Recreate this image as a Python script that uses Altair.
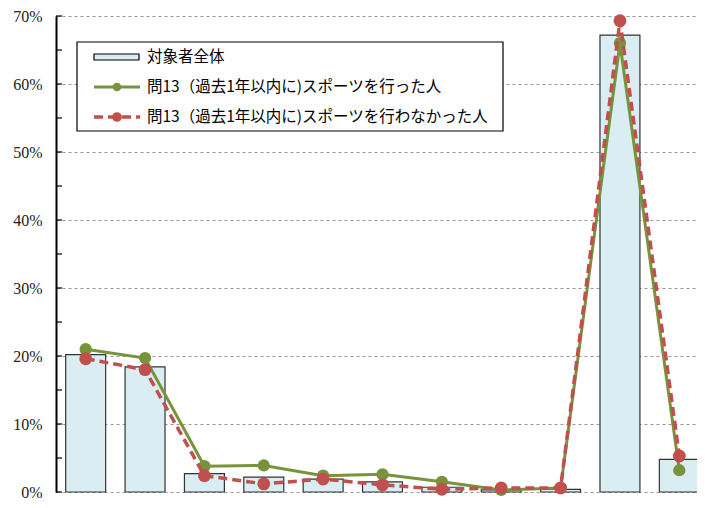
import altair as alt
import pandas as pd

categories = ["c01", "c02", "c03", "c04", "c05", "c06", "c07", "c08", "c09", "c10", "c11"]
total = [20.2, 18.4, 2.7, 2.2, 1.9, 1.5, 0.7, 0.3, 0.4, 67.2, 4.8]
did_sport = [21.0, 19.7, 3.8, 3.9, 2.4, 2.6, 1.5, 0.3, 0.6, 66.0, 3.2]
no_sport = [19.6, 18.0, 2.4, 1.2, 1.9, 1.05, 0.4, 0.6, 0.6, 69.3, 5.3]
legend_labels = ["対象者全体", "問13（過去1年以内に)スポーツを行った人", "問13（過去1年以内に)スポーツを行わなかった人"]
tick_values = [0, 5, 10, 15, 20, 25, 30, 35, 40, 45, 50, 55, 60, 65, 70]

BAR_FILL = "#daedf3"
GREEN = "#77933c"
RED = "#c0504d"
SERIF = "serif"

df = pd.DataFrame({"cat": categories, "total": total, "yes": did_sport, "no": no_sport})

xenc = alt.X("cat:N", sort=categories, axis=None,
             scale=alt.Scale(paddingInner=0.327, paddingOuter=0.1635))
yscale = alt.Scale(domain=[0, 70], nice=False, zero=True)
yaxis = alt.Axis(values=[0, 10, 20, 30, 40, 50, 60, 70], labelExpr="datum.value + '%'",
                 title=None, ticks=False, labelPadding=14, labelFont=SERIF,
                 labelFontSize=16, labelColor="#222", domainColor="#000", domainWidth=2,
                 grid=True, gridColor="#999", gridDash=[3, 3], gridWidth=1)

base = alt.Chart(df)
bars = base.mark_bar(fill=BAR_FILL, stroke="#333", strokeWidth=1.2).encode(
    x=xenc, y=alt.Y("total:Q", scale=yscale, axis=yaxis))
green_line = base.mark_line(color=GREEN, strokeWidth=3).encode(
    x=xenc, y=alt.Y("yes:Q", scale=yscale))
green_pts = base.mark_point(filled=True, color=GREEN, opacity=1, size=150, shape="circle").encode(
    x=xenc, y=alt.Y("yes:Q", scale=yscale))
red_line = base.mark_line(color=RED, strokeWidth=3.5, strokeDash=[9, 5]).encode(
    x=xenc, y=alt.Y("no:Q", scale=yscale))
red_pts = base.mark_point(filled=True, color=RED, opacity=1, size=165, shape="circle").encode(
    x=xenc, y=alt.Y("no:Q", scale=yscale))

ticks = alt.Chart(pd.DataFrame({"t": tick_values})).mark_rule(color="#000", strokeWidth=1.2).encode(
    x=alt.value(0), x2=alt.value(6), y=alt.Y("t:Q", scale=yscale))

one = pd.DataFrame({"a": [0]})
leg_box = alt.Chart(one).mark_rect(fill="white", stroke="#000", strokeWidth=1.2).encode(
    x=alt.value(21), x2=alt.value(447), y=alt.value(26), y2=alt.value(115))
leg_bar = alt.Chart(one).mark_rect(fill=BAR_FILL, stroke="#000", strokeWidth=1.2).encode(
    x=alt.value(38), x2=alt.value(83), y=alt.value(38), y2=alt.value(44))
leg_green = alt.Chart(one).mark_rule(color=GREEN, strokeWidth=3).encode(
    x=alt.value(38), x2=alt.value(84), y=alt.value(71))
leg_green_pt = alt.Chart(one).mark_point(filled=True, color=GREEN, opacity=1, size=75).encode(
    x=alt.value(61), y=alt.value(71))
leg_red = alt.Chart(one).mark_rule(color=RED, strokeWidth=3.5, strokeDash=[9, 5]).encode(
    x=alt.value(38), x2=alt.value(84), y=alt.value(101))
leg_red_pt = alt.Chart(one).mark_point(filled=True, color=RED, opacity=1, size=95).encode(
    x=alt.value(61), y=alt.value(101))
leg_text = alt.Chart(pd.DataFrame({"label": legend_labels, "yy": [41, 71, 101]})).mark_text(
    align="left", baseline="middle", font="Noto Sans CJK JP", fontSize=15.5, color="#000").encode(
    x=alt.value(91), y=alt.Y("yy:Q", scale=None), text="label:N")

chart = alt.layer(
    bars, ticks, green_line, green_pts, red_line, red_pts,
    leg_box, leg_bar, leg_green, leg_green_pt, leg_red, leg_red_pt, leg_text
).resolve_scale(y="shared").properties(
    width=653, height=476,
    autosize=alt.AutoSizeParams(type="none"),
    padding={"left": 48, "top": 8, "right": -12, "bottom": 8},
).configure_view(stroke=None).configure_axisY(labelFont=SERIF, labelFontSize=16)

chart.save("out.html", embed_options={"renderer": "svg", "actions": False})
